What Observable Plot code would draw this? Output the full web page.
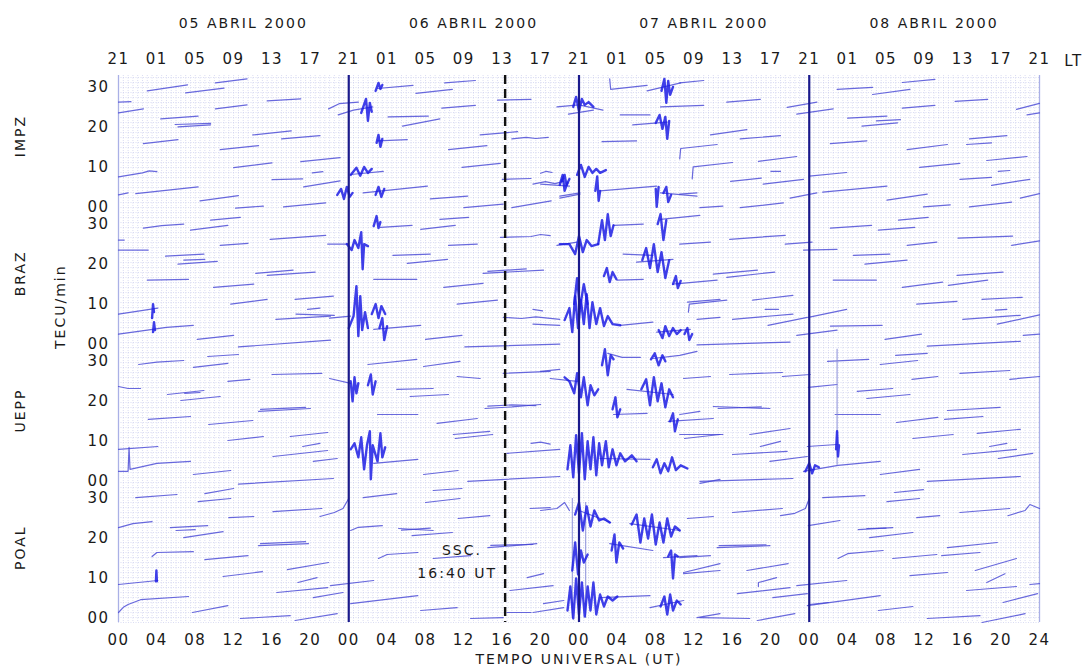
<!DOCTYPE html>
<html><head><meta charset="utf-8">
<script src="https://cdn.jsdelivr.net/npm/d3@7"></script>
<script src="https://cdn.jsdelivr.net/npm/@observablehq/plot@0.6"></script>
<style>body{margin:0;background:#fff}</style>
</head><body><div id="chart"></div>
<script>
// ---------- labels ----------
const stations = ["IMPZ", "BRAZ", "UEPP", "POAL"];
const dateLabels = ["05 ABRIL 2000", "06 ABRIL 2000", "07 ABRIL 2000", "08 ABRIL 2000"];
const utTickLabels = ["00","04","08","12","16","20","00","04","08","12","16","20","00","04","08","12","16","20","00","04","08","12","16","20","24"];
const ltTickLabels = ["21","01","05","09","13","17","21","01","05","09","13","17","21","01","05","09","13","17","21","01","05","09","13","17","21"];
const yTickLabels = ["00", "10", "20", "30"];
const dayBoundaries = [24, 48, 72];          // UT hours
const sscTime = 40.3;                        // SSC line as drawn (UT hours)
const notes = ["SSC.", "16:40 UT"];

// ---------- passes: flat [x0,v0,x1,v1,...] (x = UT hours from 05 Apr 00 UT, v = TECU/min) ----------
const impzPasses = [
 [0,26.2,1.3,26.3],[0,23.5,2.6,24.5],[3,29,7.2,30.5],[7,28.5,11,29.7],[10.1,31,13.4,32],
 [4.4,22,8.3,22.7],[5.9,20.6,9.6,20.9],[6.2,20,9.6,20.5],[10.1,24.5,13.4,25.5],[15.5,26.5,19,27],
 [21.9,24.5,23,25.8,25,26.2],[22.9,23,24.5,24.2,26.5,25],[2.6,15.8,6.2,16.8],[10.6,14.3,14.6,15.3],
 [14,18,18,19],[17,17,21,17.8],[0,7.5,2.5,8.5,3.2,9,4,8.8],[12,9.8,16,11],[19,11.3,23.1,12.3],
 [16,6.8,19.2,7],[20.2,8.5,21.3,8.8],[19.3,5,23.1,6.5],[0,3,1,3.5],[1.8,3.3,8.3,5],[8.5,1.5,12.5,2.8],
 [12.2,-0.3,15.1,0.2],[17.2,0,21.6,1],
 [27,29.6,30.7,30.4],[31,28.4,34.8,29.4],[34,31,37.2,31.6],[39.5,26.7,43,26.9],[33.7,24.7,37.2,25.4],
 [28.1,22.5,32.3,22.7],[29.6,20.2,33.5,22],[27,16.5,30.1,16.8],[37.7,18,41.6,18.8],
 [41,17,42.5,17.4,43.5,17.1,44.8,17.4],[34.4,14.3,38.4,15.3],[35.8,9.9,39.8,10.9],[40,6.9,43,7.1],
 [44,8.4,44.6,8.9,45.2,8.6],[24.2,8.1,27.6,8.9],[25.5,3.5,32.2,5.2],[32.5,2,36.4,2.7],[36,-0.2,40.1,0.7],
 [41,-0.2,45.1,1.5],[43.2,5.7,44.5,6.3,45.5,5.8,46.4,6.4],[46,2.2,48.1,3.2],[45.7,25,48,25.5,50.5,24.2],
 [46.9,23.2,49.5,24.2],
 [51.2,32,51.3,29.4,55.1,30.4],[55.1,29,58.6,31],[58.5,31,61,31.6],[52.3,23,55.4,23],[53.6,20.5,57.2,21.2],
 [56.5,25,61,25.4],[50.4,16.3,54,16.5],[58.5,12,58.6,14.6,62.4,15.6],[59.8,7,59.9,10,64,11.1],
 [44,5.7,47,5.2],[46,2.7,48.1,3.5],[50.2,4,56.1,5.2],[56.5,3.5,60.3,2.7],[63.4,26.2,66.9,26.9],
 [61.7,18,65.5,19.3],[64.8,17,69,17.8],[66.7,11.4,70.7,12.6],[63.8,6.4,67,7.2],[68,8.9,69,8.9],
 [67.2,5.7,71.4,6.9],[58.5,3.2,60.3,3.5],[60.6,-0.2,63,0.2],[64.8,-0.2,69.3,1],[70,2.2,72.8,3.5],
 [69.7,24.9,72.8,26.2],[70.7,23.2,74.5,24.5],
 [74.9,29.4,78.6,29.9],[78.6,28.1,82.5,29.4],[81.7,31.1,85.1,31.9],[76,22.2,80.1,22.7],[77.5,20.2,81.2,21],
 [79,21.5,81.5,21.8],[81.7,24.7,85.1,25.4],[87.2,26.4,90.6,26.9],[93.6,24.4,96,25.9],[94.7,23,96,23.5],
 [74.2,15.8,78,16.5],[82.2,14.3,86.4,15.6],[88.4,15.6,91,16],[88.7,17,92.6,17.8],[83.5,9.9,87.7,10.9],
 [90.5,11.6,94.7,12.6],[72,7.7,75.9,8.6],[87.7,6.9,91,7.4],[91.7,8.9,92.9,9.1],[91,5.4,95,6.9],
 [73.4,3.7,80.1,5.2],[80.1,1.7,84.3,3.2],[83.9,0,86.7,0.5],[88.7,0,93.1,1.2],[94,2.2,96,3.3]
];
const brazPasses = [
 [2.6,29,4.5,29.6,6.8,30],[7.5,28.5,11.4,29.7],[9.6,31,12.7,31.7],[0,26,0.6,26],[0,23.5,3.1,23.5],
 [10.6,24.7,13.5,25.2],[15.8,26.2,21.6,27.2],[21.8,25,23.9,25],[4.9,22,8.9,22.5],[6.2,20,10.3,20.7],
 [6.8,21,9,21.2],[3,16,7.3,16.2],[9.9,14.2,14.1,15],[14.3,17.7,18.2,18.5],[15.5,17.2,20.5,18],
 [11.7,10,15.5,11.2],[18.4,11.2,22.4,12],[19.7,8.7,21,9],[16.4,6.2,22.1,7],[18.5,7.5,22.5,7.2],
 [0,7.5,4.1,9],[0,2.5,3,3.5,5,4.2,7.8,4.7],[8.2,1.2,12,2.2],[12.5,-0.7,22.1,1],
 [27.3,29.2,30.6,29.7],[31.5,28.7,35.1,29.7],[33.5,31.2,36.5,31.7],[34.4,24.7,37.4,25],
 [39.8,26.7,43,26.9,44,27.4,45,27.1],[45.7,24.7,47.8,25.5],[28.6,22.2,32.5,22.5],[30.1,20.2,34.3,21.2],
 [38,17.7,44.3,18.5],[38.5,18.2,42.5,18.8],[26.6,16.2,31.1,16.2],[33.9,14.2,38,15.2],[35.3,10,39.5,11],
 [22,6.5,24.2,7],[26.6,3.7,31.5,4.7],[40.1,6.7,42,6.4,43.5,6.8,46,6.2],[43.2,8.7,44.2,8.3],[43.2,5,46,4.7],
 [32,1.2,35.8,2.2],[36.1,-0.7,46,0],
 [56.5,31.2,60.6,32.2],[51.6,29.7,54.7,30],[52.6,22.5,55.7,22.2],[54,20.5,57.8,21.2],[52,16,54.7,16.2],
 [57.8,15,62.4,16],[59.3,10.5,62.7,11.2],[58.5,25,61.7,25.5],[52.3,4.7,55.7,5.5],[56.1,3,59.6,3.7],
 [60.3,6.2,62.7,6.7],[63.7,26.2,69.5,27.2],[69.5,25,72.3,25.5],[71.4,23.5,74.9,23.7],[62,17.5,66.6,18.5],
 [63.4,16.7,68.4,18],[59.4,8,59.5,10,63.4,11],[66.1,11,70.3,12.2],[67.4,8.7,68.8,8.7],[64,6.2,70.3,7.5],
 [67.7,4.7,71.8,6.7],[71.9,6.7,75.9,8.7],[70.7,2.2,74.9,3.5],[74.2,4.5,79.6,4.7],[60.3,-0.2,70,0.5],
 [79.9,1.2,83.7,2.5],[84.3,-0.5,94,0.7],[94.3,2.2,96,2.5],[74.5,16,79,16],[81.7,14.2,85.9,15.5],
 [86.5,14.7,90.6,16],[87.4,17.2,92.2,18],[83.2,10,87.4,10.7],[90,11.2,94.2,11.7],[91.4,8.5,92.6,8.7],
 [88,6.2,94,7.2],[91.6,5,96,7.3],[76.6,22.2,80.4,22.5],[77.8,20,82.2,21],[82.2,24.7,85.3,25.5],
 [87.5,26.5,93.2,27],[93.1,24.7,96,25.8],[74.2,29,78.5,29.7],[79.2,28.5,83,29.2],[81.3,31,84.4,31.7]
];
const ueppPasses = [
 [2.1,29.2,4,29.8,6.8,30.2],[7.8,28.5,11.4,29.5],[9.3,31.2,12.5,31.7],[0,23.7,1,23.2,2.3,23.2],
 [11.4,25,13.7,25.5],[16,26.7,21.2,27],[5.1,21.7,8.9,22.7],[6.5,20.2,10.6,21.2],[6.9,22,8.5,22.2],
 [14.6,17.5,20,18.2],[14.8,18,19.5,18.5],[3.1,15.5,7.5,16.2],[9.4,14.2,14,15.2],[0,8,4.1,8.7],
 [0,2.5,1,2.5,1.1,8.5,1.2,3,4,4.5,7.5,5],[7.8,1.7,11.7,2.7],[11.4,10.2,15.1,11.2],[17.9,11.2,21.8,12.2],
 [19.2,8.7,21,9.5],[16.1,6.2,21.8,7.7],[20.3,5,22.8,5.7],[12.5,-0.7,22.4,0.7],
 [22,25.7,24.2,24.5],[26,29.2,31.1,30.5],[31.8,28.7,35.6,30],[35.3,26.2,37.7,25.7],[40.1,27,45,27.5],
 [45,25.7,47.8,25],[29,23,32.8,23.2],[30.4,21.2,34.4,21.7],[27,16.7,31.2,16.7],[33.2,14.5,37.4,15.7],
 [38.2,18.2,41,18.6,44,19.2],[38.5,18.8,41,19.1,43.5,18.9],[34.9,11.7,38.7,12.5],[26.6,4.5,31.2,5.5],
 [35.1,10.7,39,11.7],[40.5,7,46,8],[43,9.5,44,9.8,45,9.3],[31.8,1.7,35.4,2.7],[36.4,0,46,1.2],
 [44,27.5,46,28],[51,32,52.5,31,54.4,31],[55.7,30.7,58.5,31.5,60.3,32.5],[51.6,16.7,55.1,17],
 [53,23,57.8,21.7],[57.3,15,62,15.7],[59,10.7,62.7,11.7],[58.9,25.7,61.7,26.2],[50.2,5.7,55.4,5.5],
 [60.6,-0.5,62.7,0.5],[63.7,26.7,69.2,27.2],[69.2,26.2,72.1,26.7],[71.9,23.5,74.9,24.2],[62,18.7,67.9,18.2],
 [62.5,18.2,67,18.6],[58.5,16.7,60.6,17.5],[65.8,11.7,70,13.2],[58.5,11.7,63,11.7],[64,6.7,69.7,7.5],
 [66.9,8.7,69,10],[67.9,5,71.8,6.2],[60.6,0,70.3,0.7],
 [71.4,2.5,75,4,79.4,5],[71.8,8.7,74.9,9.2],[79.4,1.7,83.5,3],[84.3,0,94,1.2],[88,6.7,93.6,8],
 [90.8,8.7,92.6,9.5],[91.7,5.7,95.3,7],[74.7,16.7,79.4,16.7],[77,22.5,80.7,23.2],[78,20.7,82.5,21.7],
 [82.7,25.5,85.4,26.2],[87.7,27,92.9,27.7],[92.9,25.5,96,26.2],[81.1,14.7,85.4,16],[86.4,17.7,91.9,18.5],
 [86.1,15.5,90.1,16.2],[82.8,10.7,87,11.7],[89.5,12,94,13],[73.9,30,78.2,30.5],[79.4,29.2,83.3,30.2],
 [81,31.5,84.3,32]
];
const poalPasses = [
 [1.8,30.2,6.1,31],[9,31.2,12,32.5],[8.3,29.2,11.7,30],[0,22.7,1.5,23.7,3.5,24.2],[5.4,22.7,9.3,23.2],
 [6.8,20.2,10.9,21.7],[6,22,8,22.2],[11.5,25.2,14.1,25.5],[16.1,26.7,21.2,27.5],[21,25.5,22.5,26.5,23.4,27.5,24,30],
 [3.5,15.5,4,16.5,7.8,16.7],[9,14.7,13.5,15.7],[14.6,18.2,19.8,18.7],[14.8,18.7,19.5,19.2],[10.9,10.5,15,11.7],
 [17.6,12.2,21.9,14],[18.7,9,20.7,10.2],[0,8.5,4.1,9.5],[16.5,6.5,21.8,7.7],[20.3,5.2,23.4,6.5],
 [0,1.5,0.5,2.8,1,3.5,2.3,4.7,7.3,5.5],[7.7,1.5,11.4,3.2],[12.7,0,17.9,0.7],[18.4,-0.5,22.8,1.2],
 [25.5,30.2,29,31.2],[32,29,35.6,30],[32.8,32,35.8,32.5],[24.2,22,25,22.8,27.5,23.2],[29.2,22.5,32.8,22],
 [29.5,22.1,32.5,22.6],[30.6,20.7,34.8,21.5],[35.4,25,38.7,25.7],[27.1,15,28,16,31.2,16.5],[32.8,15,36.7,15.7],
 [38.5,17.7,43.6,18.7],[38.8,18.3,43.2,18.5],[22.1,8.2,26.6,9.5],[24.2,3.7,31.2,5.7],[31.5,2,35.3,2.7],
 [36.7,0,40.1,0.2],[42.9,27.5,45,27.7],[44,27,45.7,27.5,46.5,29,47,27],[40.8,7,45.3,8.2],[42.6,10.2,44.3,11.2],
 [44.3,3.7,46.4,4.5],[40.5,1.5,43,1.5],[43.2,1.5,46.4,2.7],
 [48,27,51.3,24],[51.2,18.7,55.7,17],[53.3,23.7,58.5,22],[56.8,15.2,60.3,15.7],[58.9,11.5,62.7,13.7],
 [55.4,2.7,58.9,4.5],[50.2,5.2,55.4,5.7],[60.3,0.2,62.7,1.2],[59.3,25,62,25.5],[64,26.5,69.2,27.5],
 [69,25.7,70.5,26.3,71.6,27.5,72,30],[71.9,23.2,75.2,24.5],[62.4,17.7,67.9,18.2],[62.6,18.2,67.5,18.4],
 [58.5,15.2,61.7,15.7],[58.9,11.2,62.7,12],[65.5,12,69.8,13.7],[66.7,8,66.7,9,68.6,10.2],[64.5,6.2,70,7.7],
 [68.2,5.2,71.8,6.2],[60.6,0.2,65.8,0],[66.6,-0.5,70.5,1.2],
 [70.7,8.2,75.9,9.5],[71.8,3.2,79.4,5.7],[72,3.5,74,4],[79.2,2,82.8,3],[77.1,22.2,80.7,22.7],
 [78.3,20.2,82.8,21.5],[78,22.5,80,22.6],[75,15,76,16.2,79.7,17],[80.7,15,85.3,16],[82.5,10.7,86.4,11.5],
 [84.3,0,89.8,0.7],[90,-1,94.5,1.2],[86.4,17.7,91.6,19],[85.8,15.7,89.8,16.5],[89.3,12,93.6,15],
 [90.5,9,92.4,11.2],[88.4,7,93.6,8],[92.2,4,95.8,6.2],[95,8.5,96,8.7],[92.7,25.7,94.5,27,95,28.5,96,27.5],
 [87.7,26.5,92.9,27.5],[83.2,25.2,85.6,25.7],[80.1,29.2,83.5,30],[80.9,31.5,83.9,32.2],[73.4,30.2,77.8,30.7]
];

// ---------- disturbed (scintillation) bursts, read as zig-zag traces ----------
const impzBursts = [
 [22.8,3,23.2,4.5,23.5,2,23.8,5,24.1,2.5,24.4,3.5],[25.3,23.5,25.8,27,26,21.5,26.2,26,26.4,23.8],
 [26.8,29,27.1,31,27.3,29.5,27.5,30.5],[26.9,16,27.1,18,27.3,15,27.5,17],
 [24.2,8,24.8,9.8,25.2,7.8,25.6,10,26,8.5,26.4,9.5],[26.8,3,27.1,5,27.4,2.5,27.7,4.5],
 [46.2,6.5,46.5,8,46.7,5.5,47,7],[47.4,25,47.7,27.5,48,24,48.3,27,48.6,25.5,49,26.2,49.5,25],
 [47.8,8,48.2,10.5,48.6,7.5,49,10,49.4,8.5,49.8,9.5,50.2,8.5,50.8,9.2],[49.7,4,49.9,7.6,50.05,1.5,50.2,4],
 [46,5.5,46.3,8,46.5,4,46.8,6],[56.6,29,56.9,32,57.1,26,57.3,31.5,57.5,28,57.8,30],
 [56,21,56.4,23,56.7,19.5,57,22.5,57.2,17,57.4,21.5],[56.8,3.5,57.1,5,57.3,1.2,57.6,3],[56,4.5,56.1,0,56.3,5]
];
const brazBursts = [
 [23.8,25,24.3,23.5,24.6,26,25,24,25.3,28,25.45,18.7,25.6,25,26,24.5],[26.6,29.5,26.9,32,27.1,29,27.3,30.5],
 [24,4,24.5,7,24.8,14.5,25,2,25.2,12,25.4,3.5,25.7,8,26,4],[26.4,7.5,26.8,10,27.1,6.5,27.4,9.5,27.8,7.5],
 [27.2,4,27.5,6.5,27.7,1,28,4.5],[3.5,6.5,3.6,10,3.7,8],[3.6,3,3.7,5.5,3.8,3.5],
 [46,25,47,25,47.6,22.5,48,27,48.4,23,48.8,26,49.3,24.5,50,25],[50,25,50.4,31,50.7,26,51,32.5,51.3,27,51.6,29.7],
 [46.5,6,47,9,47.3,3,47.6,12,47.9,4,48.2,11,48.5,5,48.8,12.5,49.1,4,49.4,10.5,49.8,5,50.2,9,50.6,4.5,51,7,51.5,5,52.3,4.7],
 [47.5,10,47.8,16.5,48.1,9,48.5,15,48.9,10],
 [54.6,21,55,24,55.4,19,55.8,25,56.2,18,56.6,23,57,16.5,57.4,21],[50.6,17,50.9,19,51.2,15.5,51.5,18,51.9,16.2],
 [56.2,30,56.5,32.5,56.8,26,57.1,31],[57.8,15,58.1,17,58.3,14,58.6,15.8],
 [56.3,3.5,56.7,1.5,57,4.5,57.4,2,57.8,4,58.2,2.5,58.6,3.5],[59,2.5,59.3,4,59.5,1,59.8,2.5]
];
const ueppBursts = [
 [24.2,25,24.4,20,24.6,26,24.8,22,25,24.5],[26,24,26.3,26.7,26.5,21.7,26.8,25],
 [24.2,8,24.6,9.5,25,6,25.3,11,25.6,3,25.9,9,26.2,12.5,26.3,0.5,26.5,9,27,5,27.3,12,27.5,6,27.8,8.5],
 [46.5,26,47,25,47.5,22,47.8,27,48.2,21,48.5,26,48.9,19,49.2,24,49.6,21.5,50,23],
 [50.4,29,50.7,33,51,26.5,51.3,31.5,51.6,30.5],[51.5,18,51.8,21,52,16,52.3,18],
 [54.5,23,55,25.5,55.4,19,55.8,26,56.2,20,56.6,24.5,57,18.5,57.4,23,57.8,21],
 [55.5,30.5,55.9,32,56.3,29,56.7,31.5,57,30],[57.5,15,57.8,17,58,12.5,58.3,15.5],
 [46.8,3,47.1,9,47.4,1,47.7,11.5,48,2,48.3,12,48.6,0.5,48.9,10,49.2,3,49.5,11,49.8,1.5,50.1,9.5,50.4,4,50.8,10,51.1,3.5,51.5,8,51.9,4,52.3,7,52.8,5,53.5,6.5,54,5],
 [55.7,3.5,56.1,5.5,56.5,2,56.9,4.5,57.3,2.5,57.7,6,58.1,2.8,58.6,4,59.3,3.2],
 [71.6,2.5,72,4.5,72.3,2,72.6,4,73,3.5],[74.8,8,74.9,12.5,75,6.2,75.1,9]
];
const poalBursts = [
 [46.8,2,47.1,8,47.4,0,47.7,10,48,1,48.3,9,48.6,0.5,48.9,8,49.2,2,49.5,9,49.8,1,50.2,6,50.6,3,51,5.5,51.5,4.5,52,5.5],
 [47.6,26,48,29,48.4,22,48.8,28,49.2,23,49.6,27,50.1,24.5,50.6,25,51.2,24],
 [47.3,12,47.6,19,47.9,11,48.2,17,48.5,14,48.9,16],
 [51.4,17,51.7,21,51.9,14,52.2,19,52.6,17.5],
 [53.5,23.5,54,26,54.4,19,54.8,25,55.2,20,55.6,26,56,18.5,56.4,24,56.8,19,57.2,25,57.6,20.5,58,23,58.5,22],
 [57.3,15.5,57.6,17,57.8,10,58,16,58.3,15.5],[56.5,3,56.9,5.5,57.2,1,57.5,6,57.8,2,58.2,4.5,58.6,3.5],
 [3.9,9.3,3.95,12,4,9.3]
];
// thin vertical traces: [x, v from, v to]
const impzSpikes = [];
const brazSpikes = [];
const ueppSpikes = [[74.9, 4, 33]];
const poalSpikes = [[47.3, 0, 30], [48.7, 0, 29]];

// ---------- assemble ----------
const OFF = 34.3;                       // vertical stacking step between station panels
const offsetOf = k => (3 - k) * OFF;
function rowsFrom(lists, tag) {
  const rows = [];
  lists.forEach((arr, k) => arr.forEach((seg, j) => {
    for (let i = 0; i < seg.length; i += 2)
      rows.push({id: `${tag}-${k}-${j}`, x: seg[i], y: seg[i + 1] + offsetOf(k)});
  }));
  return rows;
}
const passRows = rowsFrom([impzPasses, brazPasses, ueppPasses, poalPasses], "p");
const burstRows = rowsFrom([impzBursts, brazBursts, ueppBursts, poalBursts], "b");
const spikeRows = [impzSpikes, brazSpikes, ueppSpikes, poalSpikes]
  .flatMap((arr, k) => arr.map(([x, a, b]) => ({x, y1: a + offsetOf(k), y2: b + offsetOf(k)})));

const yTicks = stations.flatMap((s, k) => [0, 10, 20, 30].map(v => v + offsetOf(k)));
const yFmt = d => { const k = 3 - Math.floor((d + 2) / OFF); return yTickLabels[Math.round((d - offsetOf(k)) / 10)]; };
const xTicks = d3.range(0, 97, 4);

const gridColor = "#b7bce8";
const chart = Plot.plot({
  width: 1090, height: 671,
  marginLeft: 118, marginRight: 51, marginTop: 75, marginBottom: 49,
  style: "font-family:'DejaVu Sans',sans-serif;font-size:15px;letter-spacing:1.5px;color:#1a1a1a;background:#fff",
  x: {domain: [0, 96]},
  y: {domain: [-1, 135.75]},
  marks: [
    Plot.gridX({ticks: d3.range(0, 96.01, 0.5), stroke: gridColor, strokeOpacity: 0.5, strokeDasharray: "1,1.5"}),
    Plot.gridY({ticks: d3.range(-1, 135.8, 1.25), stroke: gridColor, strokeOpacity: 0.5, strokeDasharray: "1,1.5"}),
    Plot.ruleX([0, 96], {stroke: "#aab0e6", strokeWidth: 1.3}),
    Plot.line(passRows, {x: "x", y: "y", z: "id", stroke: "#4444d4", strokeWidth: 1.2, strokeOpacity: 0.8}),
    Plot.ruleX(spikeRows, {x: "x", y1: "y1", y2: "y2", stroke: "#8a8fd8", strokeWidth: 1}),
    Plot.line(burstRows, {x: "x", y: "y", z: "id", stroke: "#1d1de4", strokeWidth: 2.4, strokeOpacity: 0.85, strokeLinejoin: "round"}),
    Plot.ruleX(dayBoundaries, {stroke: "#1a1a8c", strokeWidth: 2.2}),
    Plot.ruleX([sscTime], {stroke: "#111", strokeWidth: 2.4, strokeDasharray: "9,5"}),
    Plot.axisY({ticks: yTicks, tickFormat: yFmt, tickSize: 0, tickPadding: 9, label: null, fontSize: 15}),
    Plot.axisX({anchor: "bottom", ticks: xTicks, tickFormat: d => utTickLabels[d / 4], tickSize: 0, tickPadding: 12, label: null, fontSize: 15}),
    Plot.axisX({anchor: "top", ticks: xTicks, tickFormat: d => ltTickLabels[d / 4], tickSize: 0, tickPadding: 12, label: null, fontSize: 15}),
    Plot.text(["LT"], {x: () => 96, frameAnchor: "top", dy: -20, dx: 34, fontSize: 15}),
    Plot.text(dateLabels, {x: (d, i) => i * 24 + 13, frameAnchor: "top", dy: -57, text: d => d, fontSize: 14}),
    Plot.text(stations, {x: () => 0, y: (d, i) => offsetOf(i) + 17.7, dx: -98, rotate: -90, text: d => d, fontSize: 14}),
    Plot.text(["TECU/min"], {frameAnchor: "left", dx: -58, rotate: -90, fontSize: 14}),
    Plot.text(["TEMPO UNIVERSAL (UT)"], {frameAnchor: "bottom", dy: 41, fontSize: 14}),
    Plot.text(notes, {x: (d, i) => sscTime - 4.5 - 0.5 * i, y: (d, i) => offsetOf(3) + 17 - 5.75 * i, text: d => d, fontSize: 14})
  ]
});
chart.querySelectorAll("text").forEach(t => { if (/ABRIL|TEMPO|SSC|16:40|TECU|IMPZ|BRAZ|UEPP|POAL/.test(t.textContent)) t.style.letterSpacing = "2px"; });
document.getElementById("chart").append(chart);
</script></body></html>
